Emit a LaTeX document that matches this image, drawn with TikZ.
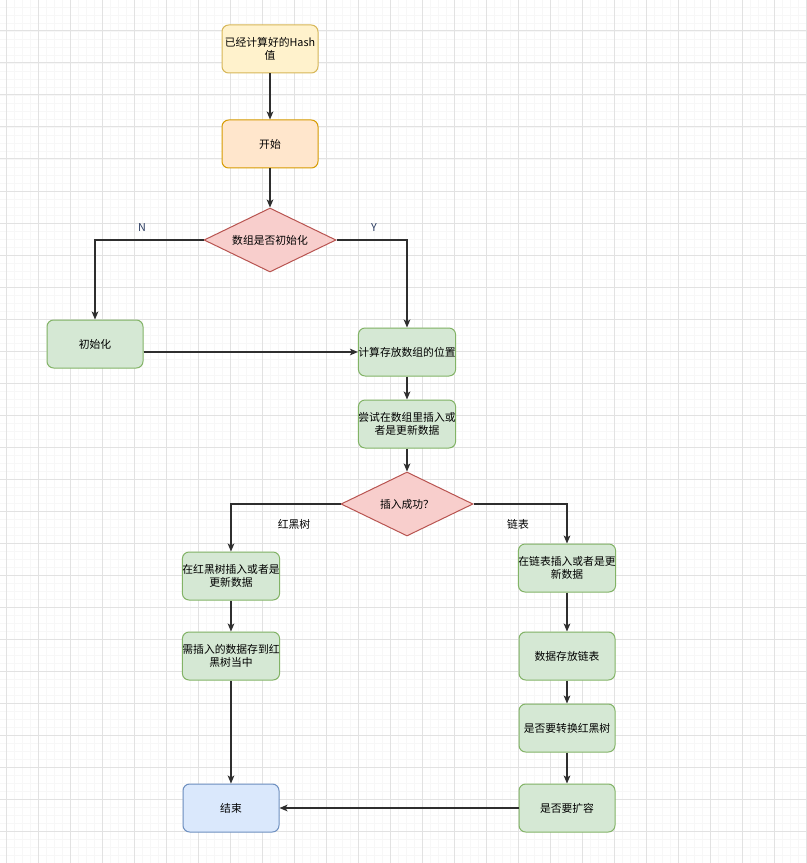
\documentclass[tikz,border=0pt]{standalone}
\usepackage{fontspec}
\setmainfont{Noto Sans CJK SC}
\usepackage{tikz}
\usetikzlibrary{shapes.geometric, arrows.meta}

\definecolor{yellowfill}{HTML}{FFF2CC}
\definecolor{yellowline}{HTML}{D6B656}
\definecolor{orangefill}{HTML}{FFE6CC}
\definecolor{orangeline}{HTML}{D79B00}
\definecolor{redfill}{HTML}{F8CECC}
\definecolor{redline}{HTML}{B85450}
\definecolor{greenfill}{HTML}{D5E8D4}
\definecolor{greenline}{HTML}{82B366}
\definecolor{bluefill}{HTML}{DAE8FC}
\definecolor{blueline}{HTML}{6C8EBF}
\definecolor{edgecol}{HTML}{2E2E2E}
\definecolor{gridmajor}{HTML}{E2E2E2}
\definecolor{gridminor}{HTML}{F7F7F7}
\definecolor{ynlabel}{HTML}{2A3B60}

\begin{document}
\begin{tikzpicture}[x=0.75pt, y=-0.75pt,
    font=\fontsize{8.1}{9.6}\selectfont,
    box/.style={rectangle, rounded corners=5pt, line width=0.75pt, minimum width=72pt, minimum height=36pt, inner sep=0pt, align=center},
    greenbox/.style={box, draw=greenline, fill=greenfill},
    choice/.style={diamond, draw=redline, fill=redfill, line width=0.75pt, minimum width=99pt, minimum height=48pt, inner sep=0pt, aspect=2.06},
    flow/.style={draw=edgecol, line width=0.9pt, ->}]
        \tikzset{>={Stealth[length=6pt, width=5pt, inset=1.5pt]}}

        % Canvas with grid
        \useasboundingbox (0,0) rectangle (806,863);
        \fill[white] (0,0) rectangle (806,863);
        \foreach \x in {6,14,...,806} {
          \draw[gridminor, line width=0.6pt] (\x,0) -- (\x,863);
        }
        \foreach \y in {7,15,...,863} {
          \draw[gridminor, line width=0.6pt] (0,\y) -- (806,\y);
        }
        \foreach \x in {6,38,...,806} {
          \draw[gridmajor, line width=0.75pt] (\x,0) -- (\x,863);
        }
        \foreach \y in {31,63,...,863} {
          \draw[gridmajor, line width=0.75pt] (0,\y) -- (806,\y);
        }

        % Top
        \node[box, draw=yellowline, fill=yellowfill] (hash) at (270,49) {已经计算好的Hash\\值};
        \node[box, draw=orangeline, fill=orangefill] (start) at (270,144) {开始};
        \node[choice] (isinit) at (270,240) {数组是否初始化};

        % Middle
        \node[greenbox] (init) at (95,344) {初始化};
        \node[greenbox] (calc) at (407,352) {计算存放数组的位置};
        \node[greenbox] (try) at (407,424) {尝试在数组里插入或\\者是更新数据};
        \node[choice] (ok) at (407,504) {插入成功？};

        % Red-black tree branch
        \node[greenbox] (treeput) at (231,576) {在红黑树插入或者是\\更新数据};
        \node[greenbox] (treesave) at (231,656) {需插入的数据存到红\\黑树当中};
        \node[box, draw=blueline, fill=bluefill] (finish) at (231,808) {结束};

        % Linked list branch
        \node[greenbox] (listput) at (567,568) {在链表插入或者是更\\新数据};
        \node[greenbox] (listsave) at (567,656) {数据存放链表};
        \node[greenbox] (totree) at (567,728) {是否要转换红黑树};
        \node[greenbox] (resize) at (567,808) {是否要扩容};

        % Edges
        \draw[flow] (hash) -- (start);
        \draw[flow] (start) -- (isinit);
        \draw[flow] (isinit.west) -| (init.north);
        \draw[flow] (isinit.east) -| (calc.north);
        \draw[flow] (init.east |- calc.west) -- (calc.west);
        \draw[flow] (calc) -- (try);
        \draw[flow] (try) -- (ok);
        \draw[flow] (ok.west) -| (treeput.north);
        \draw[flow] (ok.east) -| (listput.north);
        \draw[flow] (treeput) -- (treesave);
        \draw[flow] (treesave) -- (finish);
        \draw[flow] (listput) -- (listsave);
        \draw[flow] (listsave) -- (totree);
        \draw[flow] (totree) -- (resize);
        \draw[flow] (resize) -- (finish);

        % Labels
        \node[text=ynlabel] (nlabel) at (142,228) {N};
        \node[text=ynlabel] (ylabel) at (374,228) {Y};
        \node (treelabel) at (294,524) {红黑树};
        \node (listlabel) at (518,524) {链表};
    \end{tikzpicture}
\end{document}
